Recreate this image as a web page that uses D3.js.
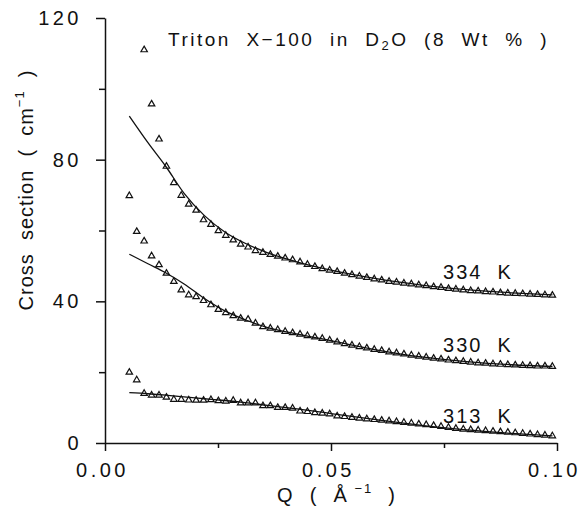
<!DOCTYPE html>
<html>
<head>
<meta charset="utf-8">
<script src="https://cdn.jsdelivr.net/npm/d3@7"></script>
<style>
body{margin:0;background:#fff;}
svg text{font-family:"Liberation Sans",Arial,sans-serif;fill:#111;white-space:pre;}
</style>
</head>
<body>
<svg class="chart"></svg>
<script>
// Q grid (1/A) of the measured points
const qValues = [0.00538, 0.00702, 0.00866, 0.01031, 0.01195, 0.01359, 0.01523, 0.01687, 0.01852, 0.02016,
  0.02180, 0.02344, 0.02508, 0.02673, 0.02837, 0.03001, 0.03165, 0.03329, 0.03494, 0.03658,
  0.03822, 0.03986, 0.04150, 0.04315, 0.04479, 0.04643, 0.04807, 0.04971, 0.05136, 0.05300,
  0.05464, 0.05628, 0.05792, 0.05957, 0.06121, 0.06285, 0.06449, 0.06613, 0.06778, 0.06942,
  0.07106, 0.07270, 0.07434, 0.07599, 0.07763, 0.07927, 0.08091, 0.08255, 0.08420, 0.08584,
  0.08748, 0.08912, 0.09076, 0.09241, 0.09405, 0.09569, 0.09733, 0.09897]
// cross sections (1/cm), null = off scale
const cross334 = [null, null, 111.0, 95.7, 85.8, 78.1, 73.5, 69.9, 67.4, 65.7,
  63.0, 61.7, 59.9, 58.6, 57.3, 56.1, 55.3, 54.3, 53.8, 53.2,
  52.7, 52.2, 51.7, 51.1, 50.4, 49.8, 49.2, 48.8, 48.4, 47.9,
  47.5, 47.1, 46.7, 46.3, 46.0, 45.6, 45.4, 45.1, 44.9, 44.6,
  44.4, 44.1, 43.9, 43.6, 43.4, 43.2, 43.0, 42.9, 42.7, 42.6,
  42.4, 42.3, 42.2, 42.1, 42.0, 41.9, 41.8, 41.7]
const cross330 = [69.8, 59.7, 57.0, 52.8, 50.3, 47.9, 45.6, 43.2, 41.8, 41.3,
  40.2, 39.0, 37.7, 36.8, 35.9, 35.2, 34.9, 33.8, 32.8, 32.4,
  32.0, 31.5, 31.1, 30.7, 30.3, 29.9, 29.5, 29.0, 28.5, 28.0,
  27.6, 27.2, 26.8, 26.4, 26.1, 25.7, 25.4, 25.1, 24.8, 24.5,
  24.2, 23.9, 23.7, 23.4, 23.2, 23.0, 22.8, 22.6, 22.5, 22.3,
  22.2, 22.1, 22.0, 21.9, 21.8, 21.7, 21.7, 21.6]
const cross313 = [19.95, 17.8, 14.0, 13.5, 13.5, 12.9, 12.3, 12.3, 12.1, 12.05,
  12.05, 12.2, 11.9, 11.8, 12.0, 11.3, 11.3, 11.3, 10.5, 10.5,
  10.0, 10.0, 9.8, 9.0, 8.85, 8.55, 8.4, 8.2, 7.6, 7.45,
  7.2, 7.0, 6.8, 6.6, 6.4, 6.2, 6.0, 5.8, 5.6, 5.35,
  5.15, 4.9, 4.65, 4.4, 4.1, 3.9, 3.75, 3.6, 3.45, 3.3,
  3.15, 3.0, 2.85, 2.7, 2.5, 2.35, 2.2, 2.0]

// fitted curves
const fitQ = [0.00538, 0.0095, 0.0135, 0.0175, 0.022, 0.0265, 0.031, 0.036, 0.042, 0.05, 0.06, 0.07, 0.08, 0.09, 0.099]
const fit334 = [92.3, 84.8, 78.0, 70.5, 64.2, 59.6, 56.4, 53.7, 51.3, 48.8, 46.4, 44.6, 43.3, 42.4, 41.8]
const fit330 = [53.3, 50.6, 48.0, 44.9, 40.8, 37.3, 34.8, 32.6, 30.9, 28.9, 26.3, 24.3, 23.0, 22.1, 21.6]
const fit313 = [14.2, 13.9, 13.5, 13.0, 12.5, 12.0, 11.4, 10.6, 9.7, 8.3, 6.6, 5.0, 3.7, 2.7, 2.0]

const seriesNames = ["334  K", "330  K", "313  K"]
const yTicks = [0, 40, 80, 120], yMinorTicks = [20, 60, 100]
const xTicks = [0, 0.05, 0.1], xMinorTicks = [0.025, 0.075]
const xTickLabels = ["0.00", "0.05", "0.10"]

const margin = {top: 18, right: 24, bottom: 65, left: 105}
let width = 581 - margin.left - margin.right,
    height = 508 - margin.top - margin.bottom;

let x = d3.scaleLinear().domain([0, 0.1]).range([0, width]);
let y = d3.scaleLinear().domain([0, 120]).range([height, 0]);

let svg = d3.select(".chart")
    .attr("width", 581)
    .attr("height", 508);
let chart = svg.append("g")
    .attr("transform", "translate(" + margin.left + "," + margin.top + ")");

// axes
let yAxis = d3.axisLeft(y).tickValues(yTicks).tickSize(9).tickSizeOuter(0).tickPadding(14).tickFormat(d3.format("d"));
let yMinor = d3.axisLeft(y).tickValues(yMinorTicks).tickSize(6).tickSizeOuter(0).tickFormat("");
let xAxis = d3.axisBottom(x).tickValues(xTicks).tickSize(8).tickSizeOuter(0).tickPadding(12)
    .tickFormat(function(d, i) { return xTickLabels[i]; });
let xMinor = d3.axisBottom(x).tickValues(xMinorTicks).tickSize(5).tickSizeOuter(0).tickFormat("");

function styleAxis(g) {
  g.selectAll("path, line").attr("stroke", "#111").attr("stroke-width", 1.5);
  g.selectAll("text").style("font-size", "20px").style("letter-spacing", "3.5px").attr("fill", "#111");
}
chart.append("g").call(yAxis).call(styleAxis);
chart.append("g").call(yMinor).call(styleAxis).select(".domain").remove();
chart.append("g").attr("transform", "translate(0," + height + ")").call(xAxis).call(styleAxis)
    .selectAll("text").attr("dx", -3);
chart.append("g").attr("transform", "translate(0," + height + ")").call(xMinor).call(styleAxis).select(".domain").remove();

// fit lines
let line = d3.line()
    .x(function(d) { return x(d[0]); })
    .y(function(d) { return y(d[1]); })
    .curve(d3.curveMonotoneX);
[fit334, fit330, fit313].forEach(function(fit) {
  chart.append("path")
      .datum(fitQ.map(function(q, i) { return [q, fit[i]]; }))
      .attr("fill", "none")
      .attr("stroke", "#111")
      .attr("stroke-width", 1.3)
      .attr("d", line);
});

// data points
let tri = d3.symbol().type(d3.symbolTriangle).size(18);
[cross334, cross330, cross313].forEach(function(vals) {
  let pts = qValues.map(function(q, i) { return [q, vals[i]]; })
      .filter(function(d) { return d[1] != null; });
  chart.append("g").selectAll("path")
      .data(pts)
    .enter().append("path")
      .attr("d", tri)
      .attr("transform", function(d) { return "translate(" + x(d[0]) + "," + y(d[1]) + ")"; })
      .attr("fill", "none")
      .attr("stroke", "#111")
      .attr("stroke-width", 1.2);
});

// temperature labels
const labelSpots = [[0.0748, 46.3], [0.0748, 25.7], [0.0748, 5.65]]
seriesNames.forEach(function(name, i) {
  chart.append("text")
      .attr("x", x(labelSpots[i][0]))
      .attr("y", y(labelSpots[i][1]))
      .style("font-size", "20px")
      .style("letter-spacing", "2px")
      .text(name);
});

// title
let title = svg.append("text")
    .attr("x", 168)
    .attr("y", 46)
    .style("font-size", "19px")
    .style("letter-spacing", "2.5px");
title.append("tspan").text("Triton  X\u2212100  in  D");
title.append("tspan").attr("dy", 4).style("font-size", "13px").text("2");
title.append("tspan").attr("dy", -4).text("O  (8  Wt  %  )");

// axis titles
let ylab = svg.append("text")
    .attr("transform", "translate(33,190) rotate(-90)")
    .attr("text-anchor", "middle")
    .style("font-size", "20px")
    .style("letter-spacing", "1px");
ylab.append("tspan").text("Cross  section  (  cm");
ylab.append("tspan").attr("dy", -9).style("font-size", "13px").text("\u22121");
ylab.append("tspan").attr("dy", 9).text("  )");

let xlab = svg.append("text")
    .attr("x", 277)
    .attr("y", 502)
    .style("font-size", "20px")
    .style("letter-spacing", "2px");
xlab.append("tspan").text("Q  (  \u00c5");
xlab.append("tspan").attr("dy", -9).style("font-size", "13px").text(" \u22121");
xlab.append("tspan").attr("dy", 9).text("  )");
</script>
</body>
</html>
